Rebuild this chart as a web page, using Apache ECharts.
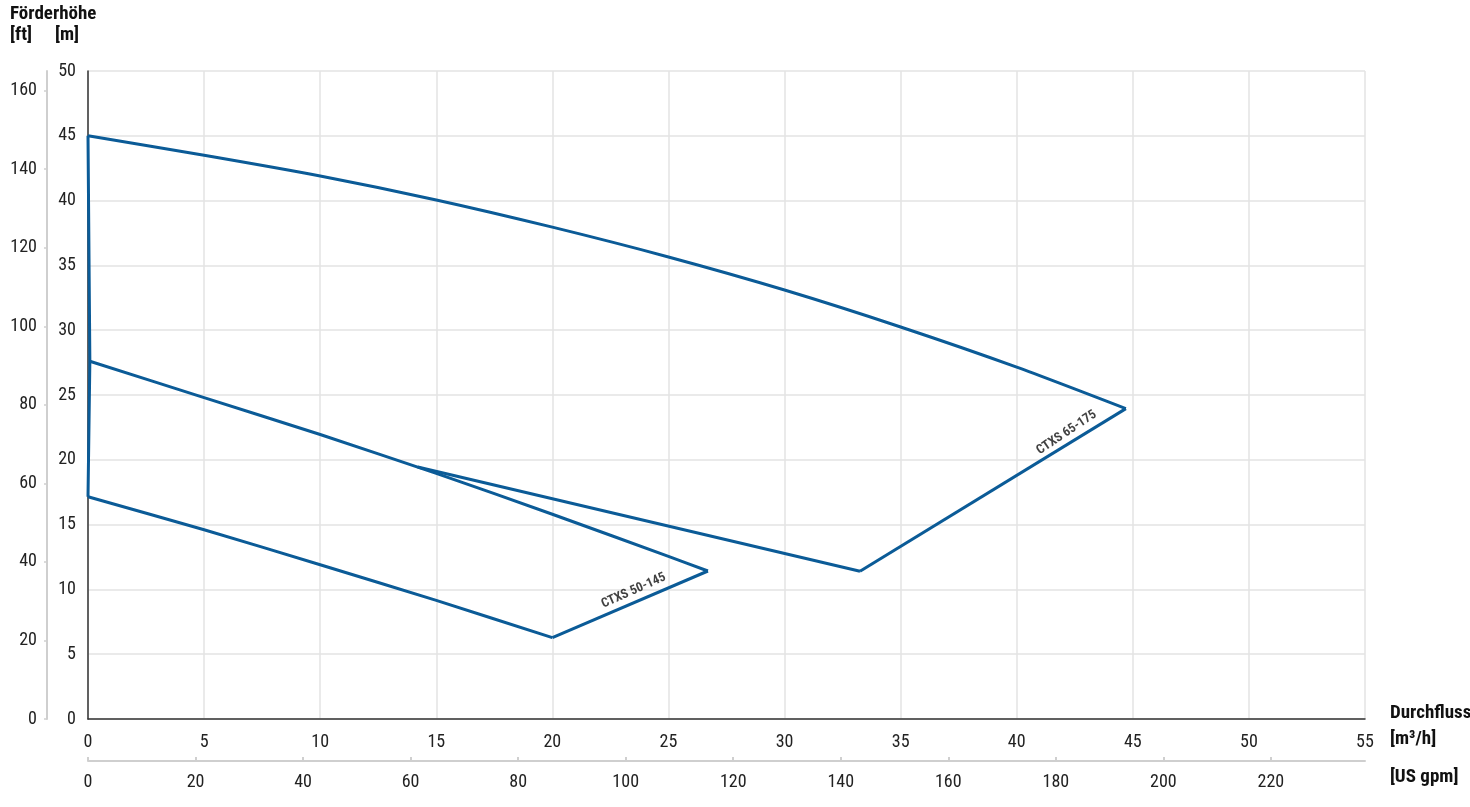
<!DOCTYPE html>
<html>
<head>
<meta charset="utf-8">
<script src="https://cdn.jsdelivr.net/npm/echarts@6/dist/echarts.min.js"></script>
<style>
  html, body { margin: 0; padding: 0; background: #fff; }
  #chart { width: 1470px; height: 807px; }
</style>
</head>
<body>
<div id="chart"></div>
<script>
// Kennlinien, Durchfluss [m³/h] / Förderhöhe [m]
const ctxs65Top = [[0, 45], [5, 43.5], [10, 41.9], [15, 40.05], [20, 37.95], [25, 35.65], [30, 33.1], [35, 30.25], [40, 27.15], [44.7, 23.95]]
const ctxs65Right = [[44.7, 23.95], [33.25, 11.4]]
const ctxs65Bottom = [[33.25, 11.4], [14.2, 19.45]]
const leftEdge = [[0, 45], [0.08, 27.6], [0, 17.15]]
const ctxs50Top = [[0.08, 27.6], [5, 24.8], [10, 21.95], [15, 18.95], [20, 15.8], [25, 12.55], [26.7, 11.42]]
const ctxs50Right = [[26.7, 11.42], [20, 6.28]]
const ctxs50Bottom = [[20, 6.28], [15, 9.15], [10, 11.9], [5, 14.6], [0, 17.15]]

const curveLabels = [
  { name: 'CTXS 50-145', value: [23.5, 9.9], rotate: 24 },
  { name: 'CTXS 65-175', value: [42.15, 22.1], rotate: 34 }
]

const FONT = "'Roboto Condensed', 'Liberation Sans Narrow', Roboto, sans-serif"
const LINE = '#0b5b97'

const chart = echarts.init(document.getElementById('chart'))

function line(data, smooth) {
  return {
    type: 'line',
    data: data,
    smooth: smooth ? 0.25 : false,
    symbol: 'none',
    lineStyle: { color: LINE, width: 3 },
    silent: true,
    z: 3
  }
}

function title(text, x, y) {
  return {
    type: 'text', x: x, y: y,
    style: { text: text, font: "bold 19px " + FONT, fill: '#111' }
  }
}

chart.setOption({
  animation: false,
  grid: { left: 88, right: 105, top: 71, bottom: 88 },
  xAxis: [
    {
      type: 'value', min: 0, max: 55, interval: 5,
      axisLine: { onZero: false, lineStyle: { color: '#333', width: 1.5 } },
      axisTick: { show: false },
      axisLabel: { color: '#222', fontFamily: FONT, fontSize: 18, margin: 14 },
      splitLine: { lineStyle: { color: '#e3e3e3', width: 1.5 } }
    },
    {
      type: 'value', position: 'bottom', offset: 42, min: 0, max: 237.5, interval: 20,
      axisLine: { onZero: false, lineStyle: { color: '#cfcfcf', width: 2 } },
      axisTick: { show: true, length: 4, inside: true, lineStyle: { color: '#cfcfcf', width: 2 } },
      axisLabel: { color: '#222', fontFamily: FONT, fontSize: 18, margin: 12, showMaxLabel: false },
      splitLine: { show: false }
    }
  ],
  yAxis: [
    {
      type: 'value', min: 0, max: 50, interval: 5,
      axisLine: { show: true, onZero: false, lineStyle: { color: '#333', width: 1.5 } },
      axisTick: { show: false },
      axisLabel: { color: '#222', fontFamily: FONT, fontSize: 18, margin: 12 },
      splitLine: { lineStyle: { color: '#e3e3e3', width: 1.5 } }
    },
    {
      type: 'value', position: 'left', offset: 41, min: 0, max: 165, interval: 20,
      axisLine: { show: true, onZero: false, lineStyle: { color: '#cfcfcf', width: 2 } },
      axisTick: { show: true, length: 3, lineStyle: { color: '#cfcfcf', width: 1.5 } },
      axisLabel: { color: '#222', fontFamily: FONT, fontSize: 18, margin: 10, showMaxLabel: false },
      splitLine: { show: false }
    }
  ],
  graphic: [
    title('Förderhöhe', 10, 5),
    title('[ft]', 10, 26),
    title('[m]', 55, 26),
    title('Durchfluss', 1390, 704),
    title('[m³/h]', 1390, 730),
    title('[US gpm]', 1390, 768)
  ],
  series: [
    line(ctxs65Top, true),
    line(ctxs65Right, false),
    line(ctxs65Bottom, false),
    line(leftEdge, false),
    line(ctxs50Top, true),
    line(ctxs50Right, false),
    line(ctxs50Bottom, true),
    {
      type: 'scatter',
      symbolSize: 0,
      silent: true,
      data: curveLabels.map(d => ({
        name: d.name,
        value: d.value,
        label: { rotate: d.rotate }
      })),
      label: {
        show: true,
        position: 'inside',
        formatter: '{b}',
        color: '#111',
        fontFamily: FONT,
        fontWeight: 'bold',
        fontSize: 13
      },
      z: 4
    }
  ]
})
</script>
</body>
</html>
